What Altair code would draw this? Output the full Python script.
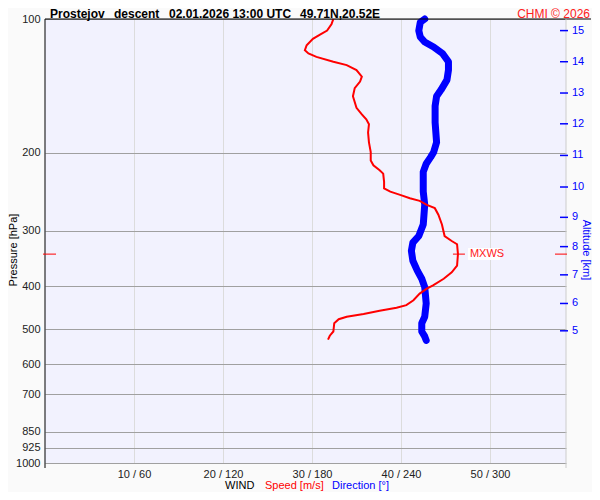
import altair as alt
import pandas as pd

FONT = "Liberation Sans"

# ---- data ----
speed_p = [100, 102.6, 106.2, 108.4, 110.8, 114.6, 117.6, 119.6, 121.7, 124.8,
           127.0, 130.3, 134.8, 138.3, 143.1, 149.3, 158.5, 164.0, 168.3, 172.6,
           180.1, 189.6, 199.5, 208.2, 213.6, 219.1, 223.0, 232.6, 240.7, 244.8,
           249.0, 253.4, 256.8, 262.1, 266.7, 275.9, 290.3, 308.2, 316.2, 321.6,
           338.5, 359.4, 371.9, 384.7, 398.1, 404.9, 415.4, 429.9, 441.0, 447.2,
           454.1, 461.8, 468.3, 474.5, 484.4, 505.6, 516.8, 527.5]
speed_v = [32.4, 32.2, 31.7, 30.9, 30.1, 29.4, 29.2, 29.6, 30.5, 32.4,
           33.9, 35.0, 35.6, 35.4, 34.8, 34.6, 35.0, 35.6, 36.1, 36.4,
           36.3, 36.4, 36.6, 36.6, 36.9, 37.6, 38.0, 38.1, 38.1, 38.8,
           39.9, 41.0, 42.1, 42.9, 43.8, 44.2, 44.6, 44.9, 45.7, 46.3,
           46.4, 46.3, 45.7, 44.8, 43.6, 42.9, 42.1, 41.4, 40.6, 39.5,
           37.6, 35.8, 33.9, 33.0, 32.5, 32.4, 32.0, 31.8]

dir_p = [100, 101.7, 106.2, 109.8, 112.7, 115.6, 119.6, 124.8, 130.3, 137.1,
         144.4, 149.3, 157.1, 171.1, 189.6, 199.5, 204.7, 211.8, 221.0, 232.6,
         244.8, 262.1, 290.3, 308.2, 319.0, 332.8, 350.4, 368.7, 384.7, 401.6,
         437.2, 468.3, 484.4, 505.6, 518.7, 529.4]
dir_v = [256, 253, 252, 253, 256, 262, 268, 272, 272, 271,
         267, 264, 263, 263, 264, 262, 260, 257, 255, 255,
         255, 256, 255, 252, 248, 247, 248, 251, 254, 256,
         257, 256, 254, 254, 256, 257]

alt_km = [5, 6, 7, 8, 9, 10, 11, 12, 13, 14, 15]
alt_p = [503.8, 437.2, 376.9, 325.6, 279.7, 239.0, 202.9, 172.2, 146.8, 124.8, 106.2]

pressure_ticks = [100, 200, 300, 400, 500, 600, 700, 850, 925, 1000]
speed_ticks = [10, 20, 30, 40, 50]

mxws_p = [338.5]
mxws_v = [46.4]

# ---- scales / axes ----
W, H = 521, 444
xscale = alt.Scale(domain=[0, 58.54], nice=False, zero=False)
yscale = alt.Scale(type="log", domain=[100, 1000], nice=False, reverse=True)

AX = alt.Axis(values=speed_ticks, title=None, grid=True, gridColor="#dcdcdc",
              domain=False, ticks=False, labelPadding=5, labelFontSize=11,
              labelColor="#222222", labelFont=FONT,
              labelExpr="datum.value + ' / ' + (datum.value * 6)")
AY = alt.Axis(values=pressure_ticks, title=None, grid=True, gridColor="#a0a0a0",
              domain=False, ticks=False, labelPadding=5, labelFontSize=11,
              labelColor="#222222", labelFont=FONT, format="d")


def X(f):
    return alt.X(f, scale=xscale, axis=AX)


def Y(f):
    return alt.Y(f, scale=yscale, axis=AY)


speed_df = pd.DataFrame({"i": range(len(speed_p)), "p": speed_p, "v": speed_v})
dir_df = pd.DataFrame({"i": range(len(dir_p)), "p": dir_p, "d": dir_v})
alt_df = pd.DataFrame({"km": alt_km, "p": alt_p})
mx_df = pd.DataFrame({"p": mxws_p, "v": mxws_v, "t": ["MXWS"]})

direction = alt.Chart(dir_df).transform_calculate(v="datum.d / 6").mark_line(
    color="#0000ff", strokeWidth=7, strokeCap="round", strokeJoin="round"
).encode(x=X("v:Q"), y=Y("p:Q"), order="i:Q")

speed = alt.Chart(speed_df).mark_line(color="#ff0000", strokeWidth=2).encode(
    x=X("v:Q"), y=Y("p:Q"), order="i:Q")

# frame lines
one = pd.DataFrame({"a": [0]})
left_line = alt.Chart(one).mark_rule(color="black", strokeWidth=1).encode(
    x=alt.value(0), y=alt.value(0), y2=alt.value(H + 5))
top_line = alt.Chart(one).mark_rule(color="black", strokeWidth=1).encode(
    x=alt.value(0), x2=alt.value(546), y=alt.value(0))
right_line = alt.Chart(one).mark_rule(color="#cccccc", strokeWidth=1).encode(
    x=alt.value(W), y=alt.value(0), y2=alt.value(H + 5))

# altitude axis
alt_ticks = alt.Chart(alt_df).mark_rule(color="#0000ff", strokeWidth=1.5).encode(
    x=alt.value(515), x2=alt.value(523), y=Y("p:Q"))
alt_labels = alt.Chart(alt_df).mark_text(
    color="#0000ff", align="left", baseline="middle", fontSize=11, font=FONT
).encode(x=alt.value(527), y=Y("p:Q"), text="km:N")

# MXWS markers
mx_left = alt.Chart(mx_df).mark_rule(color="#ff0000", strokeWidth=1).encode(
    x=alt.value(-2), x2=alt.value(11), y=Y("p:Q"))
mx_right = alt.Chart(mx_df).mark_rule(color="#ff0000", strokeWidth=1).encode(
    x=alt.value(510), x2=alt.value(522), y=Y("p:Q"))
mx_tick = alt.Chart(mx_df).mark_rule(color="#ff0000", strokeWidth=1, xOffset=-5, x2Offset=7).encode(
    x=X("v:Q"), x2="v:Q", y=Y("p:Q"))
mx_box = alt.Chart(mx_df).mark_rect(color="white", xOffset=10, x2Offset=42, yOffset=-6, y2Offset=6).encode(
    x=X("v:Q"), x2="v:Q", y=Y("p:Q"), y2="p:Q")
mx_text = alt.Chart(mx_df).mark_text(
    color="#ff2020", align="left", baseline="middle", fontSize=11, font=FONT, dx=12
).encode(x=X("v:Q"), y=Y("p:Q"), text="t:N")


def label(txt, x, y, color="black", size=11, weight="normal", align="left",
          angle=0, baseline="middle"):
    return alt.Chart(pd.DataFrame({"t": [txt]})).mark_text(
        align=align, baseline=baseline, fontSize=size, fontWeight=weight,
        color=color, angle=angle, font=FONT
    ).encode(x=alt.value(x), y=alt.value(y), text="t:N")


TY = -1.5
texts = [
    label("Prostejov", 5, TY, size=12, weight="bold", baseline="alphabetic"),
    label("descent", 69, TY, size=12, weight="bold", baseline="alphabetic"),
    label("02.01.2026 13:00 UTC", 124, TY, size=12, weight="bold", baseline="alphabetic"),
    label("49.71N,20.52E", 255, TY, size=12, weight="bold", baseline="alphabetic"),
    label("CHMI © 2026", 545, TY, color="#ff2020", size=12, align="right", baseline="alphabetic"),
    label("WIND", 180, 467),
    label("Speed [m/s]", 220, 467, color="#ff0000"),
    label("Direction [°]", 287, 467, color="#0000ff"),
    label("Pressure [hPa]", -31, 231, align="center", angle=270),
    label("Altitude [km]", 541, 231, color="#0000ff", align="center", angle=90),
]

chart = alt.layer(
    direction, speed, left_line, top_line, right_line,
    alt_ticks, alt_labels, mx_left, mx_right, mx_tick, mx_box, mx_text, *texts
).properties(
    width=W, height=H,
    autosize=alt.AutoSizeParams(type="none"),
    padding={"left": 37, "top": 11, "right": 26, "bottom": 29},
    background="#fafafa",
).configure_view(stroke=None, fill="#f2f2fe")

chart.save("out.html", embed_options={"renderer": "svg", "actions": False})
